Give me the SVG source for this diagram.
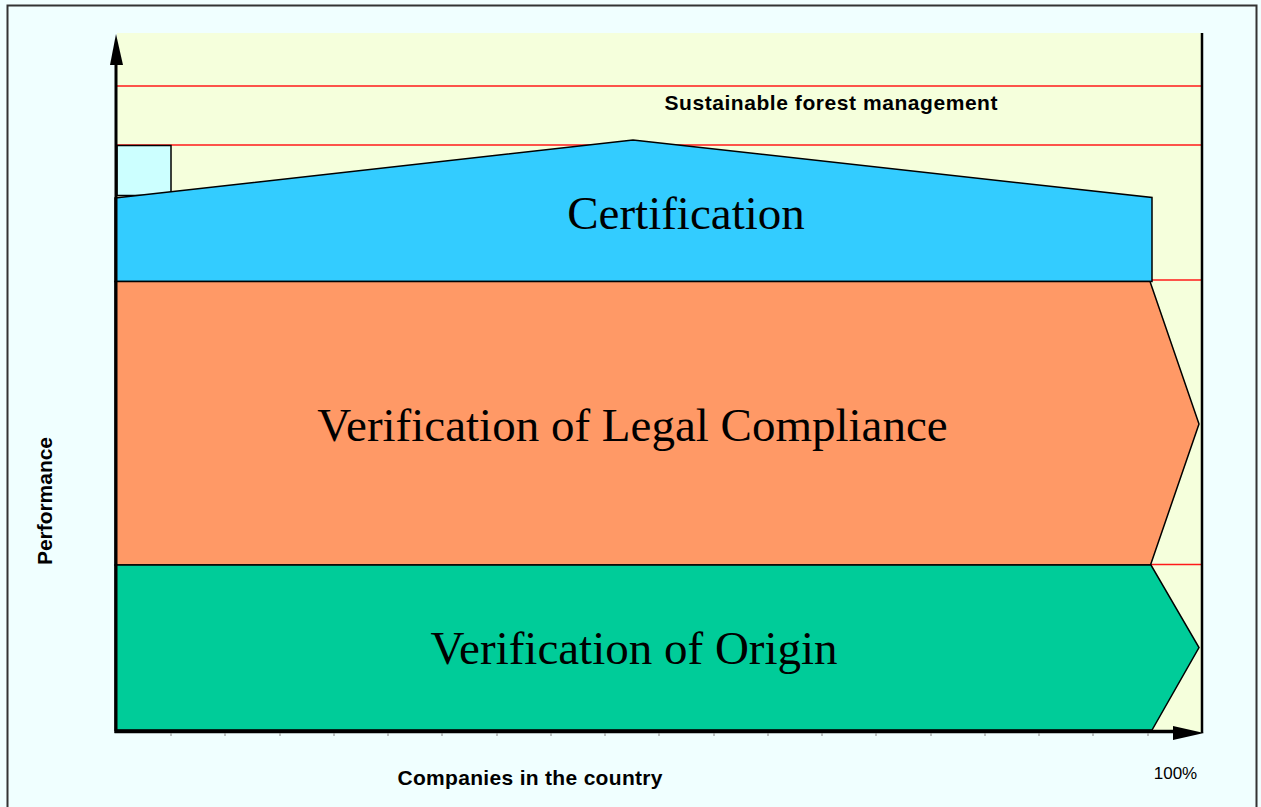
<svg xmlns="http://www.w3.org/2000/svg" width="1261" height="807" viewBox="0 0 1261 807">
<defs>
<style>
.bold{font-family:"Liberation Sans",Arial,sans-serif;font-weight:bold;font-size:21px;fill:#000}
.serif{font-family:"Liberation Serif","Times New Roman",serif;font-size:47px;fill:#000}
.red{stroke:#FF1A1A;stroke-width:1.6}
.shape{stroke:#000;stroke-width:1.5;stroke-linejoin:miter}
.tick{stroke:#888;stroke-width:1}
</style>
</defs>
<rect x="0" y="0" width="1261" height="807" fill="#F0FFFF"/>
<path d="M7.5 807 V5.5 H1256.5 V807" fill="none" stroke="#333" stroke-width="2"/>
<rect x="117" y="33" width="1085" height="700" fill="#F5FFDC"/>
<g id="gridlines">
<line class="red" x1="117" y1="86" x2="1202" y2="86"/>
<line class="red" x1="117" y1="145" x2="1202" y2="145"/>
<line class="red" x1="1150" y1="280" x2="1202" y2="280"/>
<line class="red" x1="1150" y1="564.5" x2="1202" y2="564.5"/>
</g>
<g id="sfm">
<text class="bold" x="831" y="110" text-anchor="middle" textLength="333" lengthAdjust="spacing">Sustainable forest management</text>
</g>
<g id="small-box">
<rect x="117" y="145.5" width="54" height="50" fill="#CCFFFF" stroke="#000" stroke-width="1.5"/>
</g>
<g id="certification">
<polygon class="shape" fill="#33CCFF" points="115,198 633,140 1152,197.5 1152,281.5 115,281.5"/>
<text class="serif" x="686" y="229" text-anchor="middle">Certification</text>
</g>
<g id="legal">
<polygon class="shape" fill="#FF9966" points="115,281.5 1150,281.5 1199,424 1150.5,565 115,565"/>
<text class="serif" x="632.5" y="441" text-anchor="middle">Verification of Legal Compliance</text>
</g>
<g id="origin">
<polygon class="shape" fill="#00CC99" points="115,565 1151,565 1199,647.5 1152,730 115,730"/>
<text class="serif" x="634" y="664" text-anchor="middle">Verification of Origin</text>
</g>
<g id="axes">
<line x1="116" y1="60" x2="116" y2="733" stroke="#000" stroke-width="3"/>
<polygon points="116,34 110,65 123,65" fill="#000"/>
<line x1="114.5" y1="731.5" x2="1178" y2="731.5" stroke="#000" stroke-width="3.5"/>
<polygon points="1204,733 1173,726 1173,740" fill="#000"/>
<line x1="1202" y1="33" x2="1202" y2="733" stroke="#000" stroke-width="2.5"/>
<g class="tick">
<line x1="171" y1="733" x2="171" y2="736"/><line x1="225" y1="733" x2="225" y2="736"/><line x1="280" y1="733" x2="280" y2="736"/><line x1="334" y1="733" x2="334" y2="736"/><line x1="388" y1="733" x2="388" y2="736"/><line x1="442" y1="733" x2="442" y2="736"/><line x1="497" y1="733" x2="497" y2="736"/><line x1="551" y1="733" x2="551" y2="736"/><line x1="605" y1="733" x2="605" y2="736"/><line x1="659" y1="733" x2="659" y2="736"/><line x1="714" y1="733" x2="714" y2="736"/><line x1="768" y1="733" x2="768" y2="736"/><line x1="822" y1="733" x2="822" y2="736"/><line x1="876" y1="733" x2="876" y2="736"/><line x1="931" y1="733" x2="931" y2="736"/><line x1="985" y1="733" x2="985" y2="736"/><line x1="1039" y1="733" x2="1039" y2="736"/><line x1="1093" y1="733" x2="1093" y2="736"/><line x1="1148" y1="733" x2="1148" y2="736"/>
</g>
</g>
<g id="labels">
<text class="bold" x="530" y="785" text-anchor="middle" textLength="265" lengthAdjust="spacing">Companies in the country</text>
<text x="1175.5" y="779" text-anchor="middle" font-family="Liberation Sans,Arial,sans-serif" font-size="17" fill="#000">100%</text>
<text class="bold" transform="translate(52,501) rotate(-90)" x="0" y="0" text-anchor="middle" textLength="128" lengthAdjust="spacing">Performance</text>
</g>
</svg>
